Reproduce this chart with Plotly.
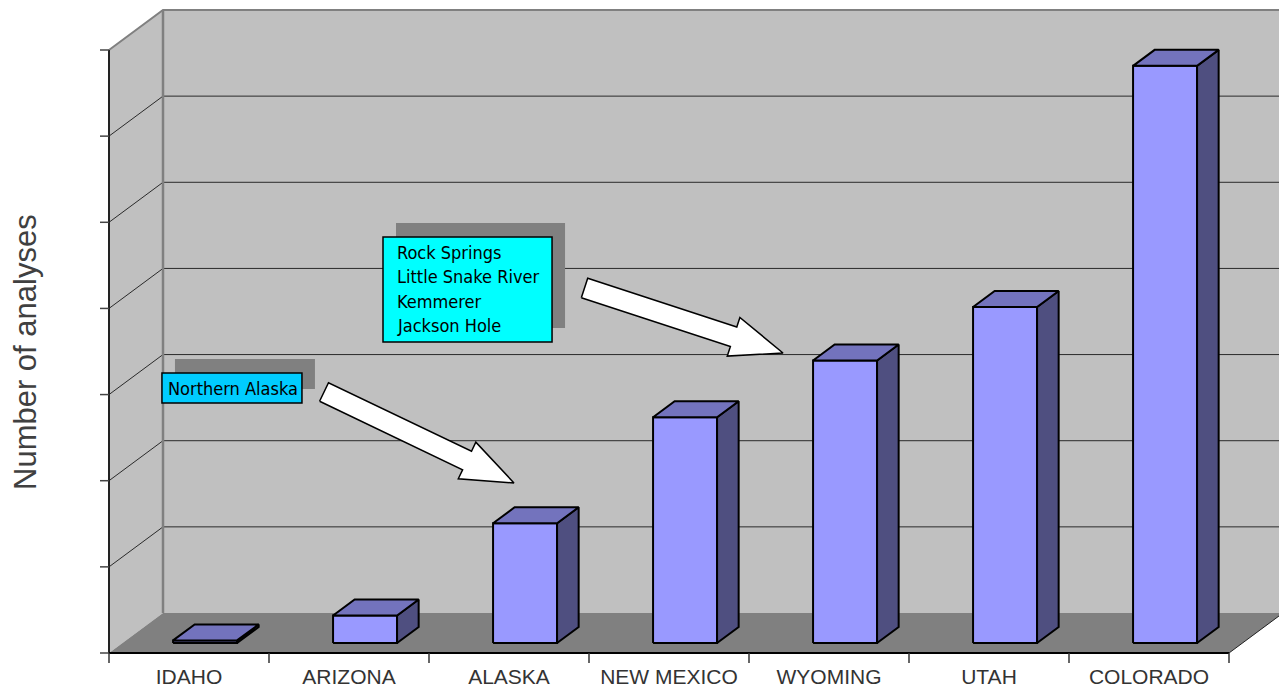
import math
import plotly.graph_objects as go

# ---- data -------------------------------------------------------------
states = ["IDAHO", "ARIZONA", "ALASKA", "NEW MEXICO", "WYOMING", "UTAH", "COLORADO"]
analyses = [3, 32, 139, 262, 328, 390, 670]
grid_step = 100
grid_max = 700

callout_alaska = ["Northern Alaska"]
callout_wyoming = ["Rock Springs", "Little Snake River", "Kemmerer", "Jackson Hole"]

# ---- canvas / projection ------------------------------------------------
W, H = 1279, 693
X0_PX, PX_PER_CAT = 109, 160          # front-left corner of the floor, width of a category
Y0_PX, PX_PER_UNIT = 653, 603 / 700   # front floor line, pixels per analysis

def to_px(x, y):
    return X0_PX + PX_PER_CAT * x, Y0_PX - PX_PER_UNIT * y

def from_px(px, py):
    return (px - X0_PX) / PX_PER_CAT, (Y0_PX - py) / PX_PER_UNIT

X_RANGE = [from_px(0, 0)[0], from_px(W, 0)[0]]
Y_RANGE = [from_px(0, H)[1], from_px(0, 0)[1]]

# oblique depth of the chart box (in category / value units)
DEPTH_X = 54 / PX_PER_CAT
DEPTH_Y = 40 / PX_PER_UNIT
N = len(states)

def depth(x, y, z):
    return x + z * DEPTH_X, y + z * DEPTH_Y

WALL = "#C0C0C0"
FLOOR = "#808080"
EDGE = "#808080"
GRID = "#2a2a2a"
FRONT = "#9999FF"
TOP = "#7373BD"
SIDE = "#4F4F80"

fig = go.Figure()

def poly(pts, fill, line_color=None, width=0):
    xs = [p[0] for p in pts] + [pts[0][0]]
    ys = [p[1] for p in pts] + [pts[0][1]]
    fig.add_trace(go.Scatter(
        x=xs, y=ys, mode="lines", fill="toself", fillcolor=fill,
        line=dict(color=line_color or fill, width=width if line_color else 0),
        hoverinfo="skip", showlegend=False))

def seg(pts, color, width):
    fig.add_trace(go.Scatter(
        x=[p[0] for p in pts], y=[p[1] for p in pts], mode="lines",
        line=dict(color=color, width=width), hoverinfo="skip", showlegend=False))

# ---- walls and floor ----------------------------------------------------
right = N + 1
poly([(0, 0), depth(0, 0, 1), depth(0, grid_max, 1), (0, grid_max)], WALL)
poly([depth(0, 0, 1), depth(right, 0, 1), depth(right, grid_max, 1), depth(0, grid_max, 1)], WALL)
poly([(0, 0), (N, 0), depth(N, 0, 1), depth(0, 0, 1)], FLOOR)

# gridlines on the side wall and back wall
for v in range(grid_step, grid_max, grid_step):
    seg([(0, v), depth(0, v, 1), depth(right, v, 1)], GRID, 1)

# outline of the box
seg([(0, grid_max), depth(0, grid_max, 1), depth(right, grid_max, 1)], EDGE, 2)
seg([depth(0, 0, 1), depth(0, grid_max, 1)], EDGE, 2.5)
seg([(N, 0), depth(N, 0, 1)], "#222222", 1)

# ---- 3D bars -------------------------------------------------------------
BAR_X = 0.316
BAR_W = 0.40
Z0, Z1 = 0.25, 0.65
for i, v in enumerate(analyses):
    xl, xr = i + BAR_X, i + BAR_X + BAR_W
    fl = depth(xl, 0, Z0); fr = depth(xr, 0, Z0)
    tl = depth(xl, v, Z0); tr = depth(xr, v, Z0)
    btl = depth(xl, v, Z1); btr = depth(xr, v, Z1)
    bbr = depth(xr, 0, Z1)
    poly([fl, fr, tr, tl], FRONT, "black", 2)
    poly([fr, bbr, btr, tr], SIDE, "black", 2)
    poly([tl, tr, btr, btl], TOP, "black", 2)

# ---- axes ------------------------------------------------------------------
seg([(0, 0), (0, grid_max)], "#222222", 2)
for v in range(0, grid_max + 1, grid_step):
    seg([from_px(X0_PX - 9, to_px(0, v)[1]), (0, v)], "#444444", 1.5)
seg([(0, 0), (N, 0)], "black", 2)
tick_len = 10 / PX_PER_UNIT
for i in range(N + 1):
    seg([(i, 0), (i, -tick_len)], "#333333", 1.5)

fig.add_trace(go.Scatter(
    x=[i + 0.5 for i in range(N)], y=[from_px(0, 679)[1]] * N, mode="text", text=states,
    textfont=dict(family="Liberation Sans, Arial", size=21, color="#333333"),
    textposition="middle center", cliponaxis=False, hoverinfo="skip", showlegend=False))

# ---- callouts ---------------------------------------------------------------
def box(x0, y0, x1, y1, sh, fill):
    dx, dy = sh
    fig.add_shape(type="rect", xref="x", yref="y", x0=x0 + dx, y0=y0 + dy, x1=x1 + dx, y1=y1 + dy,
                  fillcolor="#808080", line=dict(width=0), layer="above")
    fig.add_shape(type="rect", xref="x", yref="y", x0=x0, y0=y0, x1=x1, y1=y1,
                  fillcolor=fill, line=dict(color="black", width=1.5), layer="above")

shadow = (13 / PX_PER_CAT, 14 / PX_PER_UNIT)
box(0.331, 290.2, 1.206, 325.0, shadow, "#00CCFF")
box(1.7125, 361.0, 2.769, 482.9, shadow, "#00FFFF")

CALLOUT_FONT = dict(family="Liberation Sans Narrow, Arial Narrow, DejaVu Sans Condensed", size=18, color="black")
fig.add_annotation(x=0.356, y=307.5, xref="x", yref="y", text=callout_alaska[0],
                   showarrow=False, xanchor="left", yanchor="middle", font=CALLOUT_FONT)
for k, line in enumerate(callout_wyoming):
    fig.add_annotation(x=1.7875, y=465.0 - k * 24.3 / PX_PER_UNIT, xref="x", yref="y", text=line,
                       showarrow=False, xanchor="left", yanchor="middle", font=CALLOUT_FONT)

# block arrows pointing from the callouts to the bars
def block_arrow(tail, tip, shaft=10.3, head=20.3, head_len=52):
    tx, ty = to_px(*tail); hx, hy = to_px(*tip)
    L = math.hypot(hx - tx, hy - ty)
    ux, uy = (hx - tx) / L, (hy - ty) / L
    nx, ny = -uy, ux
    bx, by = hx - ux * head_len, hy - uy * head_len
    pts_px = [
        (tx + nx * shaft, ty + ny * shaft),
        (bx + nx * shaft, by + ny * shaft),
        (bx + nx * head, by + ny * head),
        (hx, hy),
        (bx - nx * head, by - ny * head),
        (bx - nx * shaft, by - ny * shaft),
        (tx - nx * shaft, ty - ny * shaft),
    ]
    poly([from_px(*p) for p in pts_px], "white", "black", 1.5)

block_arrow((1.344, 303.0), (2.531, 197.4))
block_arrow((2.972, 423.7), (4.2125, 348.3))

# ---- axis title ----------------------------------------------------------------
fig.add_annotation(x=25 / W, y=1 - 352 / H, xref="paper", yref="paper", text="Number of analyses",
                   textangle=-90, showarrow=False, xanchor="center", yanchor="middle",
                   font=dict(family="Liberation Sans, Arial", size=31, color="#404040"))

fig.update_layout(
    width=W, height=H, margin=dict(l=0, r=0, t=0, b=0),
    paper_bgcolor="white", plot_bgcolor="white", showlegend=False,
    xaxis=dict(range=X_RANGE, visible=False, fixedrange=True),
    yaxis=dict(range=Y_RANGE, visible=False, fixedrange=True),
)
fig.write_html("out.html")
